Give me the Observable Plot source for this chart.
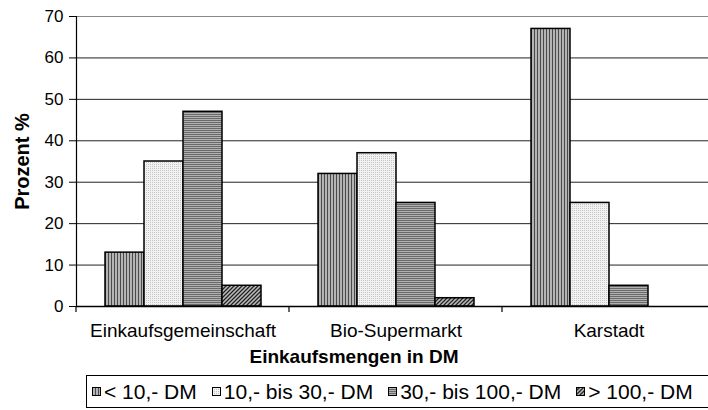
<!DOCTYPE html>
<html>
<head>
<meta charset="utf-8">
<script src="https://cdn.jsdelivr.net/npm/d3@7"></script>
<script src="https://cdn.jsdelivr.net/npm/@observablehq/plot@0.6"></script>
<style>
  html, body { margin: 0; padding: 0; background: #fff; }
  body { width: 708px; height: 410px; overflow: hidden; font-family: "Liberation Sans", Arial, sans-serif; }
  #xtitle { width: 708px; text-align: center; font-weight: bold; font-size: 19px; line-height: 22px; color: #000; }
  #legend { position: absolute; left: 86px; top: 375px; width: 617px; height: 31px; border: 1px solid #000; box-sizing: content-box;
            display: flex; align-items: center; padding-left: 5px; font-size: 21px; line-height: 27px; color: #000; white-space: nowrap; }
  .item { display: flex; align-items: center; margin-right: 15px; }
  .item svg { margin-right: 3px; }
</style>
</head>
<body>
<svg width="0" height="0" style="position:absolute">
  <defs>
    <pattern id="p-lt10" width="3" height="3" patternUnits="userSpaceOnUse">
      <rect width="3" height="3" fill="#b4b4b4"></rect>
      <rect width="1" height="3" fill="#4a4a4a"></rect>
    </pattern>
    <pattern id="p-10-30" width="2" height="2" patternUnits="userSpaceOnUse">
      <rect width="2" height="2" fill="#f2f2f2"></rect>
      <rect width="1" height="1" fill="#c4c4c4"></rect>
    </pattern>
    <pattern id="p-30-100" width="2" height="2" patternUnits="userSpaceOnUse">
      <rect width="2" height="2" fill="#b0b0b0"></rect>
      <rect width="2" height="1" fill="#6a6a6a"></rect>
    </pattern>
    <pattern id="p-gt100" width="4" height="4" patternUnits="userSpaceOnUse">
      <rect width="4" height="4" fill="#bdbdbd"></rect>
      <path d="M0,4 L4,0 M-1,1 L1,-1 M3,5 L5,3" stroke="#222" stroke-width="1.3"></path>
    </pattern>
  </defs>
</svg>
<div id="chart"></div>
<div id="xtitle"></div>
<div id="legend"></div>
<script>
// ---- data ----
const stores = ["Einkaufsgemeinschaft", "Bio-Supermarkt", "Karstadt"];
const amounts = ["< 10,- DM", "10,- bis 30,- DM", "30,- bis 100,- DM", "> 100,- DM"];
const lt10    = [13, 32, 67];
const b10_30  = [35, 37, 25];
const b30_100 = [47, 25, 5];
const gt100   = [5, 2, 0];
const yTicks = [0, 10, 20, 30, 40, 50, 60, 70];
const yLabel = "Prozent %";
const xLabel = "Einkaufsmengen in DM";
const patternIds = ["p-lt10", "p-10-30", "p-30-100", "p-gt100"];

const seriesValues = [lt10, b10_30, b30_100, gt100];
const data = stores.flatMap((s, i) => amounts.map((a, j) => ({store: s, amount: a, value: seriesValues[j][i]})));

const font = '"Liberation Sans", Arial, sans-serif';

const chart = Plot.plot({
  width: 708,
  height: 346,
  marginLeft: 76,
  marginRight: -7,
  marginTop: 16,
  marginBottom: 40,
  style: {fontFamily: font, fontSize: "17px", color: "#000", background: "#fff"},
  fx: {domain: stores, padding: 0, label: null},
  x: {domain: amounts, paddingInner: 0, paddingOuter: 0.73, axis: null},
  y: {domain: [0, 70]},
  color: {domain: amounts, range: patternIds.map(id => `url(#${id})`)},
  marks: [
    Plot.ruleY(yTicks.slice(1, -1), {stroke: "#222", strokeWidth: 1}),
    Plot.ruleY(yTicks.slice(-1), {stroke: "#888", strokeWidth: 1.2}),
    Plot.barY(data, {fx: "store", x: "amount", y: "value", fill: "amount", stroke: "#000", strokeWidth: 1.5}),
    Plot.ruleY([0], {stroke: "#000", strokeWidth: 1.5}),
    Plot.frame({anchor: "left", stroke: "#000", strokeWidth: 1.2, facet: "super"}),
    Plot.axisY({ticks: yTicks, tickSize: 7, tickPadding: 6, tickFormat: d => String(d), label: null}),
    Plot.axisFx({anchor: "bottom", tickSize: 0, tickPadding: 17, fontSize: 19, label: null}),
    Plot.text([yLabel], {frameAnchor: "left", dx: -54, rotate: -90, fontWeight: "bold", fontSize: 20, facet: "super", textAnchor: "middle"})
  ]
});
document.getElementById("chart").appendChild(chart);

// boundary ticks under the category axis, from the fx scale
const fxs = chart.scale("fx");
const ys = chart.scale("y");
const svg = d3.select(chart);
if (fxs && ys) {
  const bw = fxs.bandwidth;
  const edges = stores.map(s => fxs.apply(s)).concat([fxs.apply(stores[stores.length - 1]) + bw]);
  const y0 = ys.apply(0);
  svg.append("g").attr("stroke", "#000").attr("stroke-width", 1.2)
    .selectAll("line").data(edges).join("line")
    .attr("x1", d => d).attr("x2", d => d)
    .attr("y1", y0).attr("y2", y0 + 6);
}

document.getElementById("xtitle").textContent = xLabel;

const legend = d3.select("#legend");
amounts.forEach((a, j) => {
  const item = legend.append("div").attr("class", "item");
  const sw = item.append("svg").attr("width", 9).attr("height", 9);
  sw.append("rect").attr("x", 0.5).attr("y", 0.5).attr("width", 8).attr("height", 8)
    .attr("fill", `url(#${patternIds[j]})`).attr("stroke", "#000").attr("stroke-width", 1);
  item.append("span").text(a);
});
</script>
</body>
</html>
